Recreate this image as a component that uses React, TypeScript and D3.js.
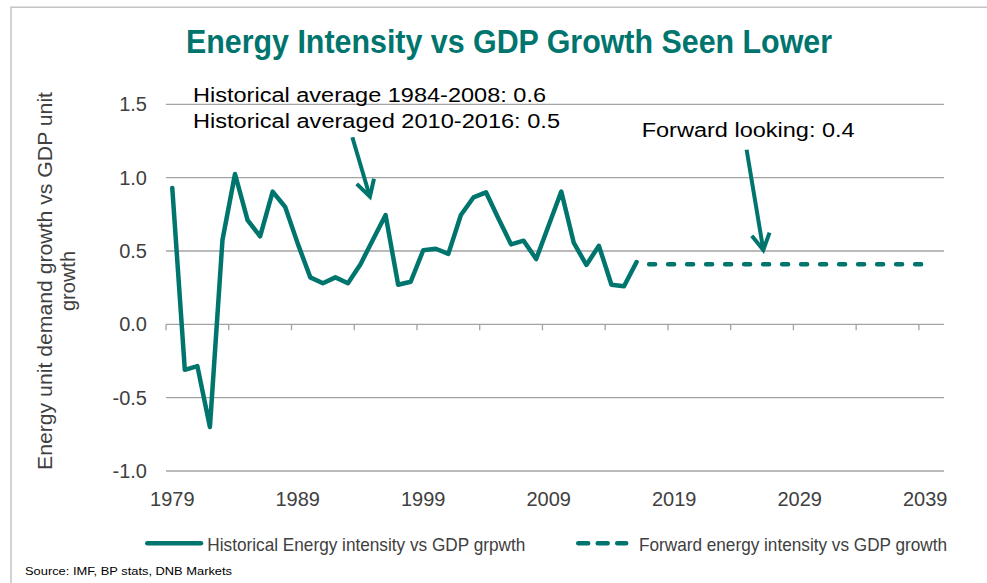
import React, { useEffect } from 'react';
import * as d3 from 'd3';

// historical series
const histYears = [
  1979, 1980, 1981, 1982, 1983, 1984, 1985, 1986, 1987, 1988,
  1989, 1990, 1991, 1992, 1993, 1994, 1995, 1996, 1997, 1998,
  1999, 2000, 2001, 2002, 2003, 2004, 2005, 2006, 2007, 2008,
  2009, 2010, 2011, 2012, 2013, 2014, 2015, 2016,
];
const histValues = [
  0.93, -0.31, -0.285, -0.7, 0.575, 1.025, 0.71, 0.6, 0.905, 0.8,
  0.55, 0.32, 0.28, 0.32, 0.28, 0.41, 0.578, 0.745, 0.27, 0.29,
  0.505, 0.515, 0.48, 0.745, 0.865, 0.9, 0.72, 0.545, 0.57, 0.445,
  0.675, 0.905, 0.555, 0.405, 0.535, 0.27, 0.26, 0.425,
];

// forward looking series
const fwdYears = [
  2017, 2018, 2019, 2020, 2021, 2022, 2023, 2024, 2025, 2026, 2027, 2028,
  2029, 2030, 2031, 2032, 2033, 2034, 2035, 2036, 2037, 2038, 2039,
];
const fwdValues = [
  0.41, 0.41, 0.41, 0.41, 0.41, 0.41, 0.41, 0.41, 0.41, 0.41, 0.41, 0.41,
  0.41, 0.41, 0.41, 0.41, 0.41, 0.41, 0.41, 0.41, 0.41, 0.41, 0.41,
];

const xTickLabels = ['1979', '1989', '1999', '2009', '2019', '2029', '2039'];
const yTicks = [-1, -0.5, 0, 0.5, 1, 1.5];
const firstYear = 1979;
const lastYear = 2040;

// arrows in data coordinates: [fromYear, fromValue, toYear, toValue]
const arrows = [
  [1993.35, 1.275, 1994.75, 0.87],
  [2024.77, 1.19, 2026.1, 0.507],
];

const TEAL = '#00756E';
const GRID = '#a3a3a3';
const FONT = "'Liberation Sans', Arial, sans-serif";
const NARROW = "'Liberation Sans Narrow', 'Arial Narrow', 'Liberation Sans', Arial, sans-serif";

export default function App() {
  useEffect(() => {
    document.body.style.margin = '0';
  }, []);

  const width = 987;
  const height = 583;
  const plot = { left: 166, right: 944, top: 104.3, bottom: 471 };

  // category axis: each year sits in the middle of its band
  const x = d3
    .scaleLinear()
    .domain([firstYear - 0.5, lastYear + 0.5])
    .range([plot.left, plot.right]);
  const y = d3.scaleLinear().domain([-1, 1.5]).range([plot.bottom, plot.top]);

  const line = d3
    .line<[number, number]>()
    .x((d) => x(d[0]))
    .y((d) => y(d[1]));

  const histPath = line(histYears.map((yr, i) => [yr, histValues[i]]));
  const fwdPath = line(fwdYears.map((yr, i) => [yr, fwdValues[i]]));

  const tickMarks = d3.range(firstYear - 0.5, lastYear, 5);

  const arrowPaths = arrows.map(([x0, v0, x1, v1]) => {
    const sx = x(x0);
    const sy = y(v0);
    const tx = x(x1);
    const ty = y(v1);
    const len = Math.hypot(tx - sx, ty - sy);
    const ux = (tx - sx) / len;
    const uy = (ty - sy) / len;
    const back = 16;
    const side = 9;
    const bx = tx - ux * back;
    const by = ty - uy * back;
    return {
      shaft: `M${sx},${sy}L${tx},${ty}`,
      head: `M${bx - uy * side},${by + ux * side}L${tx},${ty}L${bx + uy * side},${by - ux * side}`,
    };
  });

  return (
    <svg
      width={width}
      height={height}
      style={{ display: 'block', background: '#fff' }}
    >
      {/* frame */}
      <path d={`M11,${height}L11,7.3L${width},7.3`} fill="none" stroke="#c4c4c4" strokeWidth={1.5} />

      <text
        x={186}
        y={53}
        fontFamily={NARROW}
        fontWeight="bold"
        fontSize={34}
        fill={TEAL}
        textLength={646}
        lengthAdjust="spacingAndGlyphs"
      >
        Energy Intensity vs GDP Growth Seen Lower
      </text>

      {/* grid */}
      <g>
        {yTicks.map((t) => (
          <line
            key={t}
            x1={plot.left}
            x2={plot.right}
            y1={y(t)}
            y2={y(t)}
            stroke={GRID}
            strokeWidth={1.3}
          />
        ))}
        {tickMarks.map((t) => (
          <line key={t} x1={x(t)} x2={x(t)} y1={y(0)} y2={y(0) + 6} stroke={GRID} strokeWidth={1.3} />
        ))}
      </g>

      {/* y tick labels */}
      <g fontFamily={FONT} fontSize={20} fill="#404040" textAnchor="end">
        {yTicks.map((t) => (
          <text key={t} x={147} y={y(t) + 7}>
            {t.toFixed(1)}
          </text>
        ))}
      </g>

      {/* x tick labels */}
      <g fontFamily={FONT} fontSize={20} fill="#404040" textAnchor="middle">
        {xTickLabels.map((l) => (
          <text key={l} x={x(+l)} y={505.5}>
            {l}
          </text>
        ))}
      </g>

      {/* y axis title */}
      <g fontFamily={FONT} fontSize={20} fill="#404040" textAnchor="middle">
        <text transform="translate(52,281) rotate(-90)" textLength={378} lengthAdjust="spacingAndGlyphs">
          Energy unit demand growth vs GDP unit
        </text>
        <text transform="translate(75,281) rotate(-90)">growth</text>
      </g>

      {/* series */}
      <path d={histPath ?? ''} fill="none" stroke={TEAL} strokeWidth={4.5} strokeLinejoin="round" strokeLinecap="round" />
      <path
        d={fwdPath ?? ''}
        fill="none"
        stroke={TEAL}
        strokeWidth={4.5}
        strokeLinecap="round"
        strokeDasharray="6 13"
      />

      {/* annotations */}
      <g fontFamily={FONT} fontSize={20} fill="#000">
        <text x={193} y={101.7} textLength={353} lengthAdjust="spacingAndGlyphs">
          Historical average 1984-2008:  0.6
        </text>
        <text x={193} y={128.3} textLength={367} lengthAdjust="spacingAndGlyphs">
          Historical averaged  2010-2016: 0.5
        </text>
        <text x={641.7} y={136.5} textLength={213} lengthAdjust="spacingAndGlyphs">
          Forward looking:  0.4
        </text>
      </g>
      {arrowPaths.map((a, i) => (
        <g key={i} fill="none" stroke={TEAL} strokeWidth={4} strokeLinecap="butt">
          <path d={a.shaft} />
          <path d={a.head} strokeLinejoin="miter" />
        </g>
      ))}

      {/* legend */}
      <g fontFamily={FONT} fontSize={18.5} fill="#404040">
        <line x1={147.3} x2={201} y1={543.3} y2={543.3} stroke={TEAL} strokeWidth={4.5} strokeLinecap="round" />
        <text x={207.3} y={551.2} textLength={318} lengthAdjust="spacingAndGlyphs">
          Historical Energy intensity vs GDP grpwth
        </text>
        <line
          x1={578.2}
          x2={626.2}
          y1={543.3}
          y2={543.3}
          stroke={TEAL}
          strokeWidth={4.5}
          strokeLinecap="round"
          strokeDasharray="10 9.5"
        />
        <text x={639} y={551.2} textLength={308} lengthAdjust="spacingAndGlyphs">
          Forward energy intensity vs GDP growth
        </text>
      </g>

      <text x={25} y={575} fontFamily={NARROW} fontSize={11.5} fill="#000" textLength={207} lengthAdjust="spacingAndGlyphs">
        Source: IMF, BP stats, DNB Markets
      </text>
    </svg>
  );
}
